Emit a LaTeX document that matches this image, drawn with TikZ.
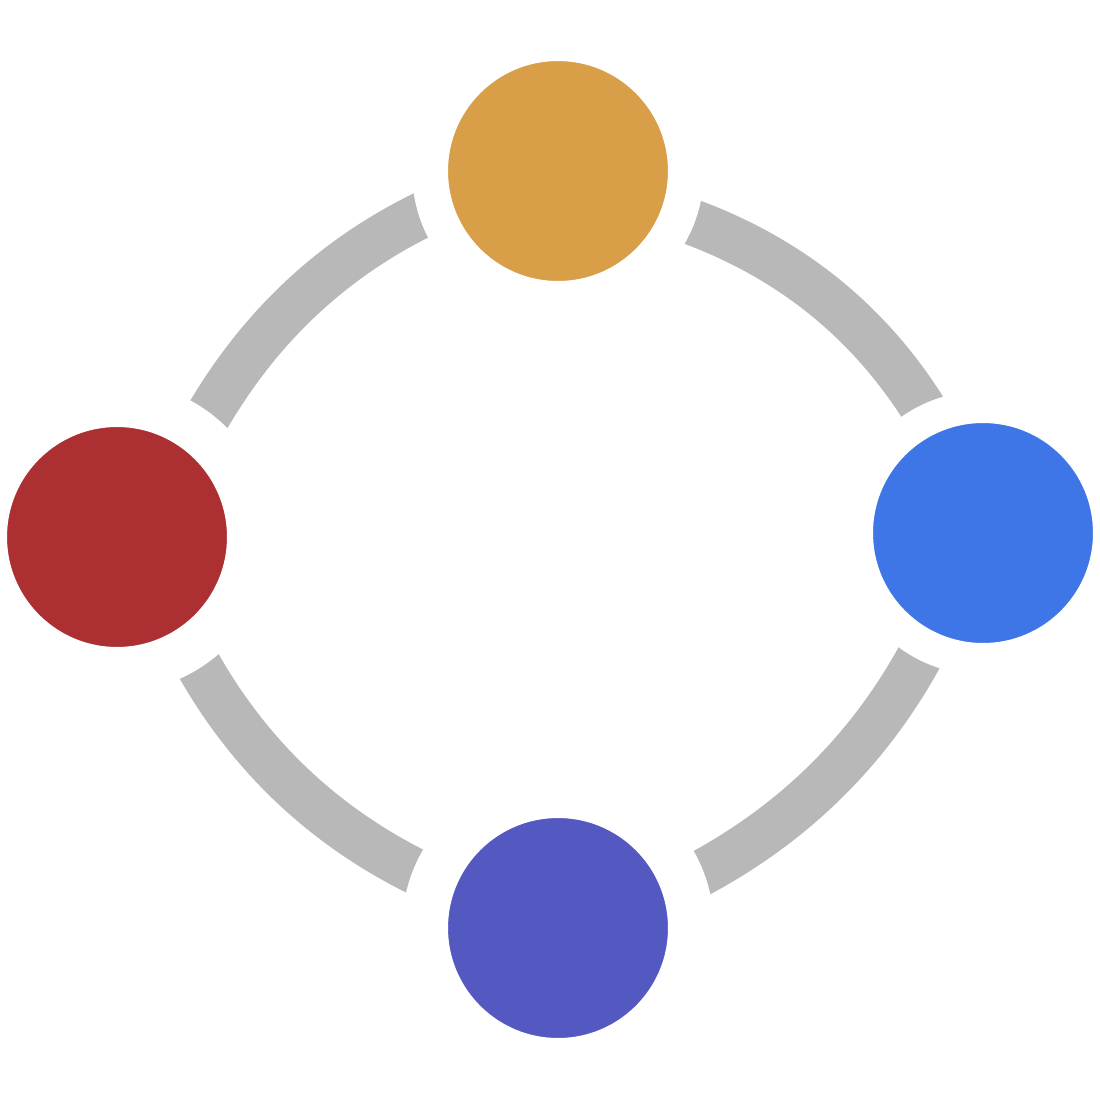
\documentclass[tikz,border=0pt]{standalone}
\usetikzlibrary{calc}
\pgfdeclarelayer{bg}
\pgfdeclarelayer{paper}
\pgfsetlayers{paper,bg,main}
\definecolor{cTop}{HTML}{D99E48}
\definecolor{cLeft}{HTML}{AC3032}
\definecolor{cRight}{HTML}{3E76E8}
\definecolor{cBottom}{HTML}{5459C1}
\definecolor{cBand}{HTML}{B8B8B8}
\begin{document}
\begin{tikzpicture}[x=0.02cm,y=-0.02cm,
  hub/.style={circle, inner sep=0pt, outer sep=0pt, draw=white},
  band/.style={draw=cBand, line width=0.92cm, line cap=butt}]
\begin{pgfonlayer}{paper}
\fill[white] (0,0) rectangle (1100,1100);
\end{pgfonlayer}
\useasboundingbox (0,0) rectangle (1100,1100);
% hubs: coloured disk of radius 110px with a white ring around it
\node[hub, fill=cTop,    minimum size=5.12cm, line width=0.72cm] (T) at (558,171) {};
\node[hub, fill=cLeft,   minimum size=5.30cm, line width=0.90cm] (L) at (117,537) {};
\node[hub, fill=cRight,  minimum size=5.04cm, line width=0.64cm] (R) at (983,533) {};
\node[hub, fill=cBottom, minimum size=5.32cm, line width=0.92cm] (B) at (558,928) {};
% bend points of the bands
\coordinate (qTL) at (282,279);
\coordinate (qTR) at (842,273);
\coordinate (qBR) at (844,802);
\coordinate (qBL) at (272,806);
\begin{pgfonlayer}{bg}
\draw[band] (L.52) .. controls ($(L.52)!2/3!(qTL)$) and ($(T.197)!2/3!(qTL)$) .. (T.197);
\draw[band] (T.-21) .. controls ($(T.-21)!2/3!(qTR)$) and ($(R.115)!2/3!(qTR)$) .. (R.115);
\draw[band] (R.243) .. controls ($(R.243)!2/3!(qBR)$) and ($(B.20)!2/3!(qBR)$) .. (B.20);
\draw[band] (L.-57) .. controls ($(L.-57)!2/3!(qBL)$) and ($(B.159)!2/3!(qBL)$) .. (B.159);
\end{pgfonlayer}
\end{tikzpicture}
\end{document}
